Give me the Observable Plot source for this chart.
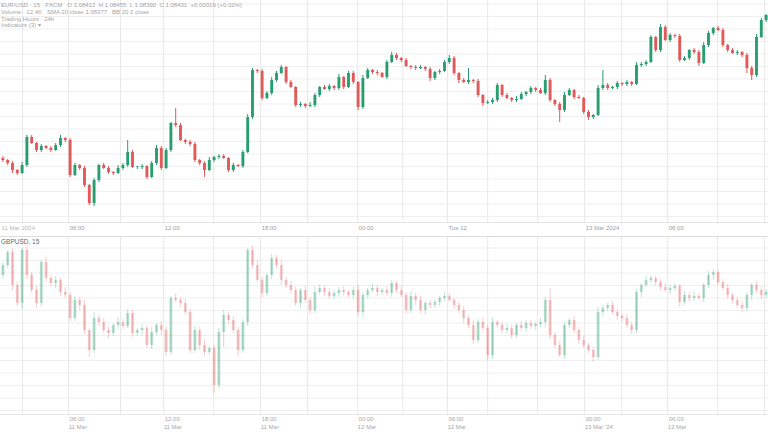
<!DOCTYPE html>
<html>
<head>
<meta charset="utf-8">
<script src="https://cdn.jsdelivr.net/npm/d3@7"></script>
<script src="https://cdn.jsdelivr.net/npm/@observablehq/plot@0.6"></script>
<style>
  html, body { margin: 0; padding: 0; background: #fff; }
  #wrap { position: relative; width: 768px; height: 432px; overflow: hidden; font-family: "Liberation Sans", Arial, sans-serif; }
  #top, #bot { position: absolute; left: 0; }
  #top { top: 0; } #bot { top: 236px; }
  .leg { position: absolute; left: 1px; font-size: 6px; line-height: 6px; color: #a5a5a5; white-space: nowrap; }
  .hdr { position: absolute; left: 1px; top: 238px; font-size: 6.5px; line-height: 7px; color: #6a6a6a; white-space: nowrap; }
</style>
</head>
<body>
<div id="wrap">
  <div id="top"></div>
  <div id="bot"></div>
  <div class="leg" style="top:2px">EUR/USD · 15 · FXCM &nbsp; O 1.08412 &nbsp;H 1.08455 &nbsp;L 1.08390 &nbsp;C 1.08431 &nbsp;+0.00019 (+0.02%)</div>
  <div class="leg" style="top:9px">Volume · 12.4K &nbsp; SMA 20 close 1.08377 &nbsp; BB 20 2 close</div>
  <div class="leg" style="top:16px">Trading Hours · 24h</div>
  <div class="leg" style="top:22px">Indicators (3) ▾</div>
  <div class="hdr">GBPUSD, 15</div>
</div>
<script>
// ---- top panel (main instrument) ----
const topOpen0 = 106.4;
const topClose = [
  106.2,105.9,105.2,104.9,105.7,108.5,107.9,107.2,107.6,107.4,
  107.2,107.7,108.4,108.2,104.7,105.7,105.4,103.7,101.9,104.2,
  105.7,105.4,105.0,104.9,105.4,105.7,107.0,105.5,105.5,105.6,
  104.5,105.9,107.4,105.4,107.2,109.9,109.7,108.2,108.0,107.8,
  106.2,105.9,105.2,106.2,106.5,106.6,106.4,105.2,105.7,105.6,
  107.0,110.5,115.2,115.1,112.4,112.9,114.2,114.9,115.5,114.0,
  113.5,111.7,111.8,111.6,111.7,112.7,113.5,113.3,113.6,113.4,
  114.5,113.5,114.9,114.0,111.5,114.4,115.2,115.0,114.9,114.5,
  116.0,116.7,116.4,116.2,115.6,115.5,115.4,115.5,115.3,114.4,
  115.0,115.1,116.0,116.4,114.9,114.2,114.0,114.2,114.1,112.7,
  111.9,112.0,112.2,113.7,112.7,112.4,112.2,112.3,112.8,113.0,
  113.4,113.2,112.9,114.2,112.2,111.8,111.2,112.7,113.2,112.5,
  112.4,111.0,110.5,110.7,113.4,113.7,113.4,113.5,113.9,113.8,
  114.0,113.8,115.7,115.8,116.0,118.5,117.2,119.5,118.2,118.7,
  118.6,116.2,116.4,117.2,117.0,115.9,117.7,118.9,119.4,119.2,
  117.7,117.2,116.9,117.0,116.7,115.4,114.7,118.5,120.2,120.7
];
const topUpWick = [
  2,1,2,1,3,2,2,1,2,1, 2,2,3,1,2,2,1,2,1,2, 1,2,2,1,3,2,12,2,1,2, 1,2,3,2,2,1,15,2,1,2,
  2,1,2,3,1,2,2,1,2,1, 2,3,2,1,2,2,3,2,2,1, 2,1,2,1,3,2,1,2,2,1, 3,1,2,2,1,3,2,1,2,1,
  2,3,2,1,2,1,2,2,1,2, 1,2,2,3,2,1,2,12,1,2, 1,2,2,2,1,2,1,3,2,1, 2,1,2,5,2,1,2,3,2,1,
  2,1,2,1,3,15,2,1,2,1, 2,1,3,2,2,2,1,3,2,2, 1,2,2,1,2,2,3,2,1,2, 2,1,2,2,1,2,2,3,2,1
];
const topDownWick = [
  2,2,3,2,1,2,1,2,2,1, 2,1,2,2,2,1,2,2,2,3, 2,1,2,2,1,2,2,1,2,2, 2,1,2,2,1,2,2,1,2,2,
  2,2,7,1,2,2,1,2,2,1, 2,1,2,2,2,1,2,2,1,2, 1,2,2,2,1,2,2,1,2,2, 2,2,1,2,3,2,1,2,2,1,
  2,1,2,2,1,2,2,1,2,3, 2,2,1,2,2,3,1,2,2,2, 3,1,2,2,2,1,2,2,1,2, 2,2,1,2,2,2,12,2,1,2,
  1,2,3,2,1,2,2,1,2,2, 2,2,1,2,2,1,2,2,1,2, 2,2,1,2,2,3,1,2,2,1, 2,2,1,2,2,5,5,2,1,2
];

// ---- bottom panel (comparison instrument) ----
const botOpen0 = 14.5;
const botClose = [
  15.5,16.8,13.5,11.7,17.0,14.5,13.0,11.7,15.8,14.2,
  13.7,14.0,12.8,12.5,10.2,12.0,11.5,9.0,7.0,10.2,
  9.8,9.0,8.7,9.5,9.8,9.4,10.7,8.7,9.0,9.2,
  7.5,8.8,9.5,9.0,6.8,12.2,12.0,11.7,10.8,7.0,
  9.0,7.5,6.8,7.2,3.5,8.8,10.5,10.0,9.0,7.0,
  9.8,17.0,15.5,14.0,12.7,14.5,16.2,15.5,14.0,13.5,
  13.0,11.7,13.0,12.0,11.0,12.8,13.2,12.8,12.4,12.7,
  13.0,12.8,12.5,13.0,10.8,12.5,13.0,13.2,12.8,13.0,
  12.7,13.7,13.0,12.5,11.0,12.4,12.0,11.0,11.7,11.5,
  11.8,12.2,12.4,12.0,11.5,11.0,10.2,9.5,8.0,9.8,
  9.2,6.5,9.8,9.5,9.0,9.2,8.5,9.5,9.2,9.7,
  9.4,9.6,9.8,12.0,8.5,7.5,6.5,9.5,10.0,9.0,
  8.0,7.5,7.0,6.3,10.8,11.2,11.5,10.8,10.4,10.2,
  9.5,9.0,12.8,13.5,14.0,14.2,13.8,13.3,13.0,13.2,
  13.4,11.8,12.5,12.2,12.4,12.2,13.5,14.5,14.8,13.8,
  13.2,12.5,12.0,11.5,11.2,12.5,13.5,13.0,12.5,12.8
];
const botUpWick = [
  3,2,4,3,2,5,3,4,2,5, 3,4,2,5,3,4,3,5,2,6, 3,4,3,2,5,3,4,3,2,4, 3,5,2,4,3,2,5,3,4,3,
  4,3,5,2,3,4,5,3,4,3, 3,2,4,5,3,2,4,3,5,3, 4,3,2,4,3,5,3,2,4,3, 3,4,2,3,5,3,2,4,3,2,
  4,3,2,4,3,5,3,4,2,3, 3,2,4,3,2,3,4,3,5,3, 4,3,5,2,3,4,3,2,4,3, 3,2,4,3,12,3,4,3,2,4,
  3,4,2,3,5,3,2,4,3,2, 4,3,3,2,4,3,2,3,4,3, 3,2,4,3,5,3,2,4,3,2, 3,4,2,3,4,3,2,4,3,3
];
const botDownWick = [
  4,3,5,3,6,4,3,5,3,4, 3,5,4,3,4,3,5,4,7,3, 4,3,5,3,4,3,2,4,3,5, 3,4,3,5,4,3,2,4,3,3,
  3,5,4,3,8,3,15,4,3,7, 3,4,3,2,4,3,4,3,5,3, 4,3,5,3,4,3,2,4,3,3, 4,3,2,4,3,5,3,2,4,3,
  3,4,3,2,4,3,5,3,4,3, 3,4,3,2,4,3,5,3,4,3, 3,5,4,3,4,3,4,3,2,4, 3,4,3,5,4,3,2,4,3,3,
  4,3,3,5,3,4,3,2,4,3, 3,4,3,5,2,3,4,3,2,4, 3,5,3,4,3,2,4,3,5,3, 3,4,3,2,4,3,5,3,4,3
];

// ---- time axis ----
const gridTicks = [4.1, 13.7, 24.5, 33.5, 43.9, 53.7, 63.5, 73.9, 83.3, 92.6, 101.0, 111.4, 121.2, 128.9, 138.5, 148.9, 158.7];
const labelTicks = [13.7, 33.5, 53.7, 73.9, 92.6, 121.2, 138.5];
const topLabels = ["06:00", "12:00", "18:00", "00:00", "Tue 12", "13 Mar 2024", "06:00"];
const botLabels1 = ["06:00", "12:00", "18:00", "00:00", "06:00", "00:00", "06:00"];
const botLabels2 = ["11 Mar", "11 Mar", "11 Mar", "12 Mar", "12 Mar", "13 Mar '24", "13 Mar"];

const UP = "#2a9d70", DOWN = "#e05a5a";

function build(open0, close, up, dn) {
  return close.map((c, i) => {
    const o = i ? close[i - 1] : open0;
    return { i, o, c, h: Math.max(o, c) + up[i] / 10, l: Math.min(o, c) - dn[i] / 10, col: c >= o ? UP : DOWN };
  });
}
const topData = build(topOpen0, topClose, topUpWick, topDownWick);
const botData = build(botOpen0, botClose, botUpWick, botDownWick);

function candleMarks(data, opacity, bodyW) {
  return [
    Plot.ruleX(data, { x: "i", y1: "l", y2: "h", stroke: "col", strokeWidth: 1, strokeOpacity: opacity }),
    Plot.ruleX(data, { x: "i", y1: "o", y2: d => (d.c === d.o ? d.c + 0.06 : d.c), stroke: "col", strokeWidth: bodyW, strokeOpacity: opacity })
  ];
}

const labRows = labelTicks.map((t, k) => ({ t, a: topLabels[k], b: botLabels1[k], c: botLabels2[k] }));

const topChart = Plot.plot({
  width: 768, height: 236,
  marginLeft: 0, marginRight: 0, marginTop: 0, marginBottom: 14,
  x: { domain: [-0.5, 159.5], axis: null },
  y: { domain: [100, 122.2], axis: null },
  style: { background: "transparent", fontFamily: "Liberation Sans, Arial, sans-serif" },
  marks: [
    Plot.gridY(d3.range(100.6, 122.2, 1.25), { stroke: "#efefef", strokeOpacity: 1 }),
    Plot.ruleX(gridTicks, { stroke: "#e8e8e8" }),
    Plot.frame({ anchor: "bottom", stroke: "#e4e4e4" }),
    ...candleMarks(topData, 1, 2.9),
    Plot.text(labRows, { x: "t", text: "a", frameAnchor: "bottom", dy: 7, dx: 1, textAnchor: "start", fontSize: 6, fill: "#a0a0a0" }),
    Plot.text(["11 Mar 2024"], { x: -0.5, frameAnchor: "bottom", dy: 7, dx: 1, textAnchor: "start", fontSize: 6, fill: "#b8b8b8" })
  ]
});
document.getElementById("top").appendChild(topChart);

const botChart = Plot.plot({
  width: 768, height: 196,
  marginLeft: 0, marginRight: 0, marginTop: 0, marginBottom: 18,
  x: { domain: [-0.5, 159.5], axis: null },
  y: { domain: [0.6, 18.4], axis: null },
  style: { background: "transparent", fontFamily: "Liberation Sans, Arial, sans-serif" },
  marks: [
    Plot.gridY(d3.range(1.0, 18.4, 1.25), { stroke: "#efefef", strokeOpacity: 1 }),
    Plot.ruleX(gridTicks, { stroke: "#e8e8e8" }),
    Plot.frame({ anchor: "top", stroke: "#dcdcdc" }),
    Plot.frame({ anchor: "bottom", stroke: "#e4e4e4" }),
    ...candleMarks(botData, 0.3, 2.9),
    Plot.text(labRows, { x: "t", text: "b", frameAnchor: "bottom", dy: 6, dx: 1, textAnchor: "start", fontSize: 6, fill: "#a8a8a8" }),
    Plot.text(labRows, { x: "t", text: "c", frameAnchor: "bottom", dy: 14, dx: 0, textAnchor: "start", fontSize: 6, fill: "#a8a8a8" })
  ]
});
document.getElementById("bot").appendChild(botChart);
</script>
</body>
</html>
